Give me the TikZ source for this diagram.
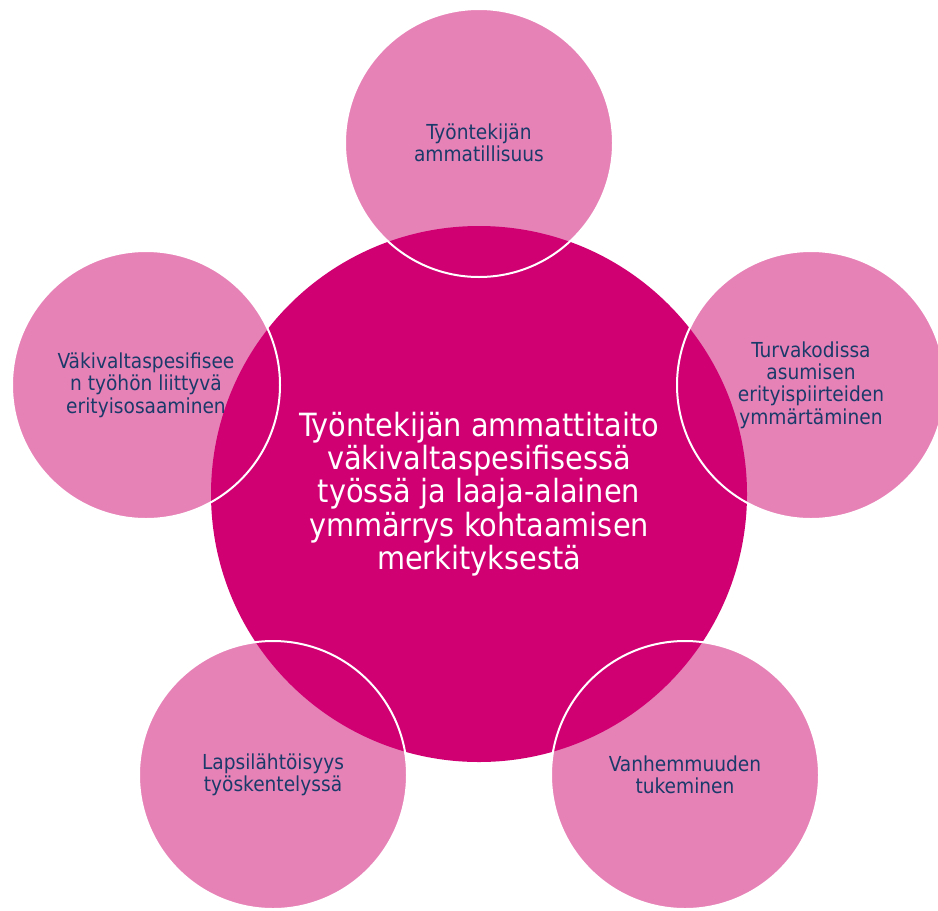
\documentclass[tikz,border=0pt]{standalone}
\usepackage{fontspec}
\setmainfont{DejaVu Sans Condensed}
\usepackage{tikz}

\definecolor{petalpink}{HTML}{E782B7}
\definecolor{hubmagenta}{HTML}{D00072}
\definecolor{labelnavy}{HTML}{1A3A6A}

\tikzset{
  petal/.style={circle, fill=petalpink, minimum size=201pt, inner sep=0pt},
  rim/.style={circle, draw=white, line width=1.5pt, minimum size=201pt, inner sep=0pt,
    align=center, text=labelnavy, font=\fontsize{15.5}{16.8}\selectfont},
  hub/.style={circle, fill=hubmagenta, minimum size=402pt, inner sep=0pt,
    align=center, text=white, font=\fontsize{24}{25}\selectfont}
}

\begin{document}
\begin{tikzpicture}[x=0.75pt, y=-0.75pt]
  \useasboundingbox (0,0) rectangle (938,910);

  % Draw the five outer circles
  \node[petal] (top) at (479,143) {};
  \node[petal] (right) at (811,385) {};
  \node[petal] (left) at (146,385) {};
  \node[petal] (botright) at (685,775) {};
  \node[petal] (botleft) at (273,775) {};

  % Draw the centre circle
  \node[hub] (hub) at (479,494) {Työntekijän ammattitaito\\
    väkivaltaspesifisessä\\ työssä ja laaja-alainen\\
    ymmärrys kohtaamisen\\ merkityksestä};

  % white rims and labels on top
  \node[rim] (toplabel) at (top) {Työntekijän\\ ammatillisuus};
  \node[rim] (rightlabel) at (right) {Turvakodissa\\ asumisen\\
    erityispiirteiden\\ ymmärtäminen};
  \node[rim] (leftlabel) at (left) {Väkivaltaspesifisee\\
    n työhön liittyvä\\ erityisosaaminen};
  \node[rim] (botrightlabel) at (botright) {Vanhemmuuden\\ tukeminen};
  \node[rim] (botleftlabel) at (botleft) {Lapsilähtöisyys\\ työskentelyssä};
\end{tikzpicture}
\end{document}
